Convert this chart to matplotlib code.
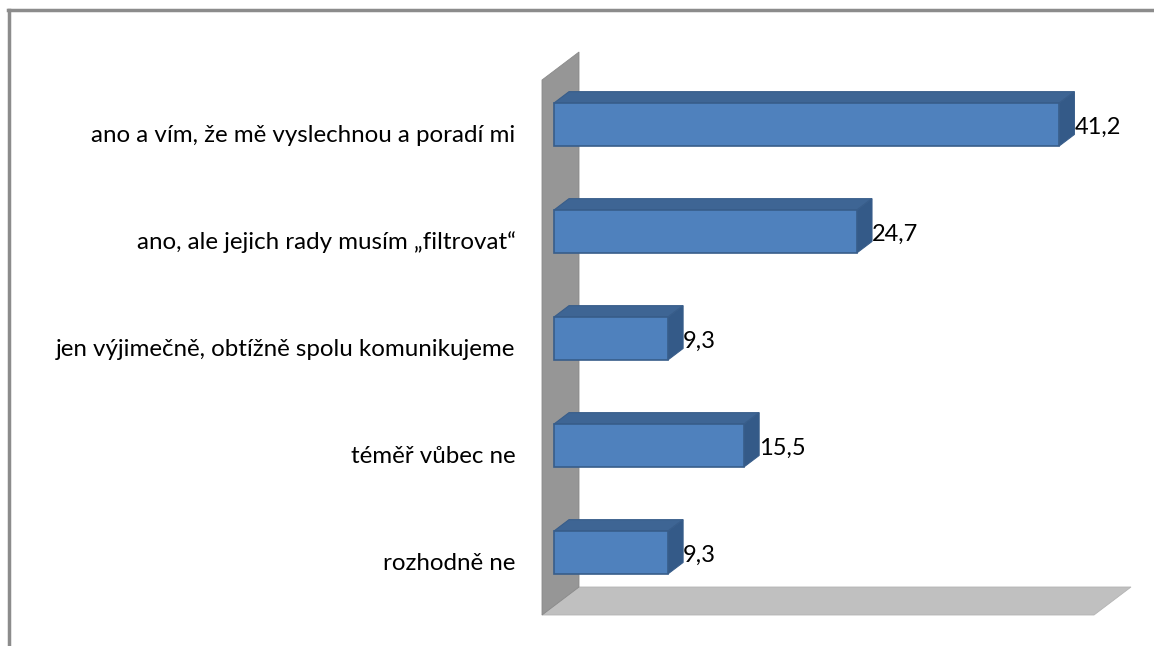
import matplotlib
matplotlib.use("Agg")
import matplotlib.pyplot as plt
from matplotlib.patches import Polygon
from matplotlib.lines import Line2D
import matplotlib.transforms as mtransforms

categories = [
    "ano a vím, že mě vyslechnou a poradí mi",
    "ano, ale jejich rady musím \u201efiltrovat\u201c",
    "jen výjimečně, obtížně spolu komunikujeme",
    "téměř vůbec ne",
    "rozhodně ne",
]
values = [41.2, 24.7, 9.3, 15.5, 9.3]
value_labels = ["41,2", "24,7", "9,3", "15,5", "9,3"]
x_max = 45

W, H = 1154, 646
fig = plt.figure(figsize=(W / 100, H / 100), dpi=100)
fig.patch.set_facecolor("white")

# front plane of the 3D plot area (in pixels, image coords)
left_px, right_px = 542, 1094
top_px, bottom_px = 80, 615
ax = fig.add_axes([left_px / W, (H - bottom_px) / H,
                   (right_px - left_px) / W, (bottom_px - top_px) / H])
ax.set_xlim(0, x_max)
ax.set_ylim(len(categories) - 0.5, -0.5)
ax.set_facecolor("none")
for s in ax.spines.values():
    s.set_visible(False)
ax.set_xticks([])
ax.set_yticks(range(len(categories)))
ax.set_yticklabels(categories, fontsize=17.4, family=["Lato", "DejaVu Sans"])
ax.tick_params(axis="y", length=0, pad=19)

DX, DY = 37.0, 28.0       # depth vector (display px)
F_FRONT, F_BACK = 0.32, 0.73
bar_h = 0.40

front_col = "#4f81bd"
top_col = "#3e6594"
side_col = "#345a88"
edge_col = "#385d8a"
wall_col = "#969696"
floor_col = "#c0c0c0"

ident = mtransforms.IdentityTransform()


def pt(v, c, f):
    x, y = ax.transData.transform((v, c))
    return (x + f * DX, y + f * DY)


def add_poly(verts, fc, ec, lw, z):
    p = Polygon(verts, closed=True, transform=ident, facecolor=fc,
                edgecolor=ec, lw=lw, zorder=z, clip_on=False)
    ax.add_patch(p)
    p.set_transform(ident)
    p.set_clip_on(False)


n = len(categories)
wall = [pt(0, -0.5, 0), pt(0, -0.5, 1), pt(0, n - 0.5, 1), pt(0, n - 0.5, 0)]
floor = [pt(0, n - 0.5, 0), pt(0, n - 0.5, 1), pt(x_max, n - 0.5, 1), pt(x_max, n - 0.5, 0)]
add_poly(floor, floor_col, "#b4b4b4", 0.6, 1)
add_poly(wall, wall_col, "#8a8a8a", 0.6, 2)

front_tr = ax.transData + mtransforms.Affine2D().translate(F_FRONT * DX, F_FRONT * DY)
bars = ax.barh(range(n), values, height=bar_h, color=front_col, edgecolor=edge_col,
               linewidth=1.2, zorder=5)
for b in bars:
    b.set_transform(front_tr)
    b.set_clip_on(False)

for i, v in enumerate(values):
    top_c = i - bar_h / 2
    bot_c = i + bar_h / 2
    top_face = [pt(0, top_c, F_FRONT), pt(v, top_c, F_FRONT),
                pt(v, top_c, F_BACK), pt(0, top_c, F_BACK)]
    side_face = [pt(v, top_c, F_FRONT), pt(v, bot_c, F_FRONT),
                 pt(v, bot_c, F_BACK), pt(v, top_c, F_BACK)]
    add_poly(top_face, top_col, edge_col, 0.8, 4)
    add_poly(side_face, side_col, edge_col, 0.8, 4)

lab_tr = ax.transData + mtransforms.Affine2D().translate(F_BACK * DX, F_FRONT * DY - 3)
for i, v in enumerate(values):
    ax.text(v, i, value_labels[i], transform=lab_tr, ha="left", va="center",
            fontsize=17, family=["Lato", "DejaVu Sans"], color="black", zorder=6,
            clip_on=False)

# outer chart border (top and left visible)
bc = "#8c8c8c"
fig.add_artist(Line2D([8 / W, 1.0], [(H - 10) / H, (H - 10) / H], color=bc, lw=2.5,
                      transform=fig.transFigure))
fig.add_artist(Line2D([9 / W, 9 / W], [0, (H - 10) / H], color=bc, lw=2.5,
                      transform=fig.transFigure))

fig.savefig("out.png", dpi=100, facecolor="white")
